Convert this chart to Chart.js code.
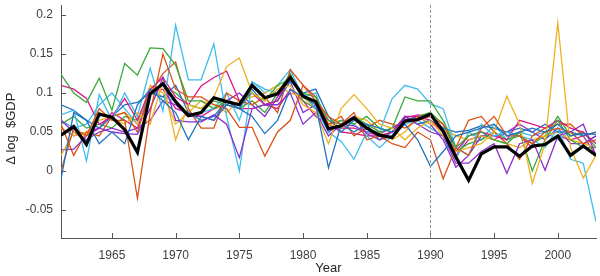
<!DOCTYPE html>
<html>
<head>
<meta charset="utf-8">
<script src="https://cdn.jsdelivr.net/npm/chart.js@4/dist/chart.umd.min.js"></script>
<style>
  html, body { margin: 0; padding: 0; background: #fff; }
  #wrap { width: 600px; height: 276px; }
</style>
</head>
<body>
<div id="wrap"><canvas id="chart" width="600" height="276"></canvas></div>
<script>
const years = [1961, 1962, 1963, 1964, 1965, 1966, 1967, 1968, 1969, 1970,
  1971, 1972, 1973, 1974, 1975, 1976, 1977, 1978, 1979, 1980,
  1981, 1982, 1983, 1984, 1985, 1986, 1987, 1988, 1989, 1990,
  1991, 1992, 1993, 1994, 1995, 1996, 1997, 1998, 1999, 2000,
  2001, 2002, 2003];

const xTicks = [1965, 1970, 1975, 1980, 1985, 1990, 1995, 2000];
const yTicks = [-0.05, 0, 0.05, 0.1, 0.15, 0.2];
const splitYear = 1990;

// average of all countries (thick black)
const meanGrowth = [0.046, 0.057, 0.034, 0.073, 0.069, 0.053, 0.024, 0.099, 0.112, 0.089,
  0.071, 0.075, 0.094, 0.089, 0.085, 0.110, 0.094, 0.099, 0.120, 0.096,
  0.089, 0.054, 0.058, 0.068, 0.055, 0.046, 0.043, 0.064, 0.066, 0.073,
  0.051, 0.018, -0.012, 0.022, 0.031, 0.031, 0.019, 0.032, 0.034, 0.045,
  0.020, 0.032, 0.020];

const blueA = [-0.010, 0.075, 0.065, 0.035, 0.050, 0.035, 0.085, 0.105, 0.090, 0.075,
  0.040, 0.070, 0.065, 0.085, 0.080, 0.070, 0.048, 0.065, 0.105, 0.095,
  0.085, 0.004, 0.060, 0.050, 0.060, 0.055, 0.050, 0.060, 0.040, 0.006,
  0.025, 0.045, 0.050, 0.055, 0.060, 0.045, 0.050, 0.055, 0.050, 0.060,
  0.045, 0.048, 0.047];
const blueB = [0.085, 0.078, 0.065, 0.055, 0.070, 0.085, 0.088, 0.100, 0.095, 0.110,
  0.075, 0.065, 0.070, 0.090, 0.080, 0.105, 0.085, 0.090, 0.115, 0.100,
  0.105, 0.070, 0.050, 0.065, 0.060, 0.040, 0.050, 0.070, 0.060, 0.065,
  0.055, 0.050, 0.052, 0.058, 0.055, 0.050, 0.055, 0.050, 0.060, 0.050,
  0.050, 0.045, 0.050];
const orangeA = [0.000, 0.055, 0.045, 0.080, 0.065, 0.065, -0.035, 0.075, 0.150, 0.105,
  0.095, 0.095, 0.085, 0.080, 0.056, 0.056, 0.019, 0.050, 0.065, 0.110,
  0.090, 0.070, 0.060, 0.075, 0.040, 0.045, 0.035, 0.030, 0.050, 0.040,
  -0.010, 0.030, 0.020, 0.055, 0.070, 0.045, 0.045, 0.035, 0.050, 0.055,
  0.050, 0.035, 0.040];
const orangeB = [0.060, 0.020, 0.050, 0.045, 0.070, 0.075, 0.050, 0.100, 0.125, 0.140,
  0.080, 0.055, 0.055, 0.100, 0.090, 0.085, 0.095, 0.075, 0.130, 0.110,
  0.095, 0.060, 0.070, 0.045, 0.055, 0.065, 0.060, 0.055, 0.065, 0.070,
  0.060, 0.030, 0.065, 0.070, 0.050, 0.035, 0.015, 0.045, 0.055, 0.060,
  0.060, 0.045, 0.050];
const yellowA = [0.020, 0.050, 0.045, 0.075, 0.068, 0.060, 0.075, 0.060, 0.115, 0.040,
  0.085, 0.080, 0.095, 0.134, 0.145, 0.100, 0.090, 0.105, 0.110, 0.085,
  0.075, 0.035, 0.080, 0.098, 0.080, 0.060, 0.055, 0.040, 0.055, 0.065,
  0.045, 0.025, 0.030, 0.035, 0.050, 0.096, 0.060, -0.016, 0.035, 0.190,
  0.030, -0.009, 0.020];
const yellowB = [0.055, 0.045, 0.050, 0.065, 0.070, 0.075, 0.060, 0.110, 0.100, 0.060,
  0.075, 0.090, 0.085, 0.075, 0.090, 0.095, 0.100, 0.110, 0.100, 0.095,
  0.080, 0.060, 0.055, 0.070, 0.065, 0.050, 0.040, 0.050, 0.070, 0.060,
  0.055, 0.045, 0.040, 0.045, 0.040, 0.035, 0.030, 0.040, 0.045, 0.050,
  0.040, 0.035, 0.030];
const purpleA = [0.027, 0.028, 0.045, 0.055, 0.050, 0.048, 0.047, 0.080, 0.120, 0.065,
  0.063, 0.063, 0.072, 0.060, 0.017, 0.080, 0.085, 0.085, 0.100, 0.060,
  0.075, 0.045, 0.060, 0.070, 0.048, 0.040, 0.045, 0.070, 0.060, 0.050,
  0.045, 0.010, 0.010, 0.025, 0.035, -0.003, 0.035, 0.040, 0.001, 0.045,
  0.050, 0.060, 0.020];
const purpleB = [0.065, 0.050, 0.040, 0.050, 0.055, 0.050, 0.055, 0.065, 0.090, 0.085,
  0.070, 0.070, 0.065, 0.090, 0.100, 0.085, 0.070, 0.095, 0.115, 0.075,
  0.085, 0.050, 0.060, 0.058, 0.050, 0.048, 0.055, 0.065, 0.070, 0.060,
  0.040, 0.005, 0.020, 0.045, 0.045, 0.050, 0.060, 0.050, 0.040, 0.055,
  0.035, 0.035, 0.045];
const greenA = [0.124, 0.100, 0.088, 0.119, 0.078, 0.138, 0.123, 0.158, 0.157, 0.136,
  0.090, 0.090, 0.080, 0.090, 0.085, 0.100, 0.090, 0.110, 0.118, 0.100,
  0.095, 0.065, 0.060, 0.070, 0.060, 0.050, 0.055, 0.095, 0.090, 0.090,
  0.065, 0.030, 0.045, 0.050, 0.040, 0.035, 0.050, 0.000, 0.040, 0.065,
  0.040, 0.030, 0.030];
const greenB = [0.060, 0.070, 0.055, 0.060, 0.055, 0.070, 0.065, 0.100, 0.110, 0.100,
  0.085, 0.080, 0.090, 0.085, 0.080, 0.090, 0.075, 0.100, 0.125, 0.090,
  0.080, 0.060, 0.065, 0.060, 0.070, 0.055, 0.050, 0.065, 0.070, 0.075,
  0.060, 0.025, 0.035, 0.040, 0.050, 0.040, 0.045, 0.035, 0.045, 0.070,
  0.045, 0.050, 0.030];
const cyanA = [0.072, 0.078, 0.013, 0.098, 0.065, 0.100, 0.070, 0.132, 0.077, 0.187,
  0.117, 0.117, 0.163, 0.070, 0.000, 0.114, 0.105, 0.100, 0.120, 0.100,
  0.080, 0.050, 0.038, 0.015, 0.050, 0.050, 0.093, 0.110, 0.105, 0.086,
  0.080, 0.030, 0.020, 0.060, 0.045, 0.050, 0.045, 0.040, 0.030, 0.055,
  0.015, 0.010, -0.065];
const cyanB = [0.065, 0.055, 0.060, 0.085, 0.100, 0.080, 0.060, 0.105, 0.095, 0.090,
  0.070, 0.075, 0.080, 0.100, 0.065, 0.115, 0.100, 0.110, 0.130, 0.095,
  0.100, 0.055, 0.065, 0.060, 0.045, 0.030, 0.045, 0.060, 0.065, 0.055,
  0.045, 0.015, 0.050, 0.040, 0.060, 0.040, 0.050, 0.045, 0.050, 0.040,
  0.050, 0.035, 0.045];
const magentaA = [0.110, 0.105, 0.093, 0.060, 0.070, 0.093, 0.065, 0.105, 0.120, 0.095,
  0.085, 0.109, 0.120, 0.128, 0.090, 0.100, 0.085, 0.090, 0.120, 0.100,
  0.080, 0.065, 0.055, 0.055, 0.050, 0.045, 0.050, 0.070, 0.070, 0.065,
  0.050, 0.025, 0.045, 0.050, 0.045, 0.040, 0.065, 0.060, 0.055, 0.065,
  0.055, 0.050, 0.035];
const magentaB = [0.055, 0.045, 0.050, 0.055, 0.075, 0.065, 0.055, 0.100, 0.105, 0.080,
  0.075, 0.070, 0.080, 0.085, 0.080, 0.080, 0.085, 0.080, 0.105, 0.090,
  0.070, 0.060, 0.050, 0.048, 0.045, 0.045, 0.050, 0.068, 0.072, 0.070,
  0.055, 0.020, 0.040, 0.045, 0.040, 0.050, 0.045, 0.030, 0.035, 0.045,
  0.040, 0.045, 0.020];

const countrySeries = [
  [blueA, '#1f74bd'], [orangeA, '#d95319'], [yellowA, '#edb120'], [purpleA, '#8a2fd0'],
  [greenA, '#3aa83a'], [cyanA, '#3dbcee'], [magentaA, '#d81b8c'],
  [blueB, '#1f74bd'], [orangeB, '#d95319'], [yellowB, '#edb120'], [purpleB, '#8a2fd0'],
  [greenB, '#3aa83a'], [cyanB, '#3dbcee'], [magentaB, '#d81b8c']
];

function toPoints(values) {
  return years.map((yr, i) => ({ x: yr, y: values[i] }));
}

const datasets = [{
  data: toPoints(meanGrowth),
  borderColor: '#000',
  borderWidth: 3.2,
  pointRadius: 0,
  tension: 0
}];

countrySeries.forEach(([values, color]) => {
  datasets.push({
    data: toPoints(values),
    borderColor: color,
    borderWidth: 1.3,
    pointRadius: 0,
    tension: 0
  });
});

// inward tick marks + dashed split line
const axisExtras = {
  id: 'axisExtras',
  beforeDatasetsDraw(chart) {
    const { ctx, chartArea, scales } = chart;
    ctx.save();
    ctx.strokeStyle = '#555';
    ctx.lineWidth = 1;
    xTicks.forEach((v) => {
      const px = Math.round(scales.x.getPixelForValue(v)) + 0.5;
      ctx.beginPath();
      ctx.moveTo(px, chartArea.bottom);
      ctx.lineTo(px, chartArea.bottom - 5);
      ctx.stroke();
    });
    yTicks.forEach((v) => {
      const py = Math.round(scales.y.getPixelForValue(v)) + 0.5;
      ctx.beginPath();
      ctx.moveTo(chartArea.left, py);
      ctx.lineTo(chartArea.left + 5, py);
      ctx.stroke();
    });
    ctx.restore();
  },
  afterDatasetsDraw(chart) {
    const { ctx, chartArea, scales } = chart;
    const px = Math.round(scales.x.getPixelForValue(splitYear)) + 0.5;
    ctx.save();
    ctx.strokeStyle = '#999';
    ctx.lineWidth = 1;
    ctx.setLineDash([3, 2]);
    ctx.beginPath();
    ctx.moveTo(px, chartArea.top);
    ctx.lineTo(px, chartArea.bottom);
    ctx.stroke();
    ctx.restore();
  }
};

const tickFont = { family: 'Liberation Sans, Arial, sans-serif', size: 12 };
const titleFont = { family: 'Liberation Sans, Arial, sans-serif', size: 13 };

new Chart(document.getElementById('chart'), {
  type: 'line',
  data: { datasets: datasets },
  options: {
    responsive: false,
    animation: false,
    layout: { padding: { top: 5, right: 4, left: 0, bottom: 0 } },
    plugins: {
      legend: { display: false },
      tooltip: { enabled: false }
    },
    scales: {
      x: {
        type: 'linear',
        min: 1961,
        max: 2003,
        afterBuildTicks: (scale) => { scale.ticks = xTicks.map((v) => ({ value: v })); },
        afterFit: (scale) => { scale.height = 38; },
        grid: { display: false, drawTicks: false },
        border: { display: true, color: '#555', width: 1 },
        ticks: { font: tickFont, color: '#404040', padding: 10, maxRotation: 0,
          callback: (v) => String(v) },
        title: { display: true, text: 'Year', font: titleFont, color: '#262626',
          padding: { top: 0, bottom: 0 } }
      },
      y: {
        min: -0.086,
        max: 0.213,
        afterBuildTicks: (scale) => { scale.ticks = yTicks.map((v) => ({ value: v })); },
        afterFit: (scale) => {
          scale.width = 61;
          scale.paddingTop = 0;
          scale.paddingBottom = 0;
        },
        grid: { display: false, drawTicks: false },
        border: { display: true, color: '#555', width: 1 },
        ticks: { font: tickFont, color: '#404040', padding: 8,
          callback: (v) => String(v) },
        title: { display: true, text: 'Δ log  $GDP    ', font: titleFont, color: '#262626',
          padding: { top: 4, bottom: 4 } }
      }
    }
  },
  plugins: [axisExtras]
});
</script>
</body>
</html>
